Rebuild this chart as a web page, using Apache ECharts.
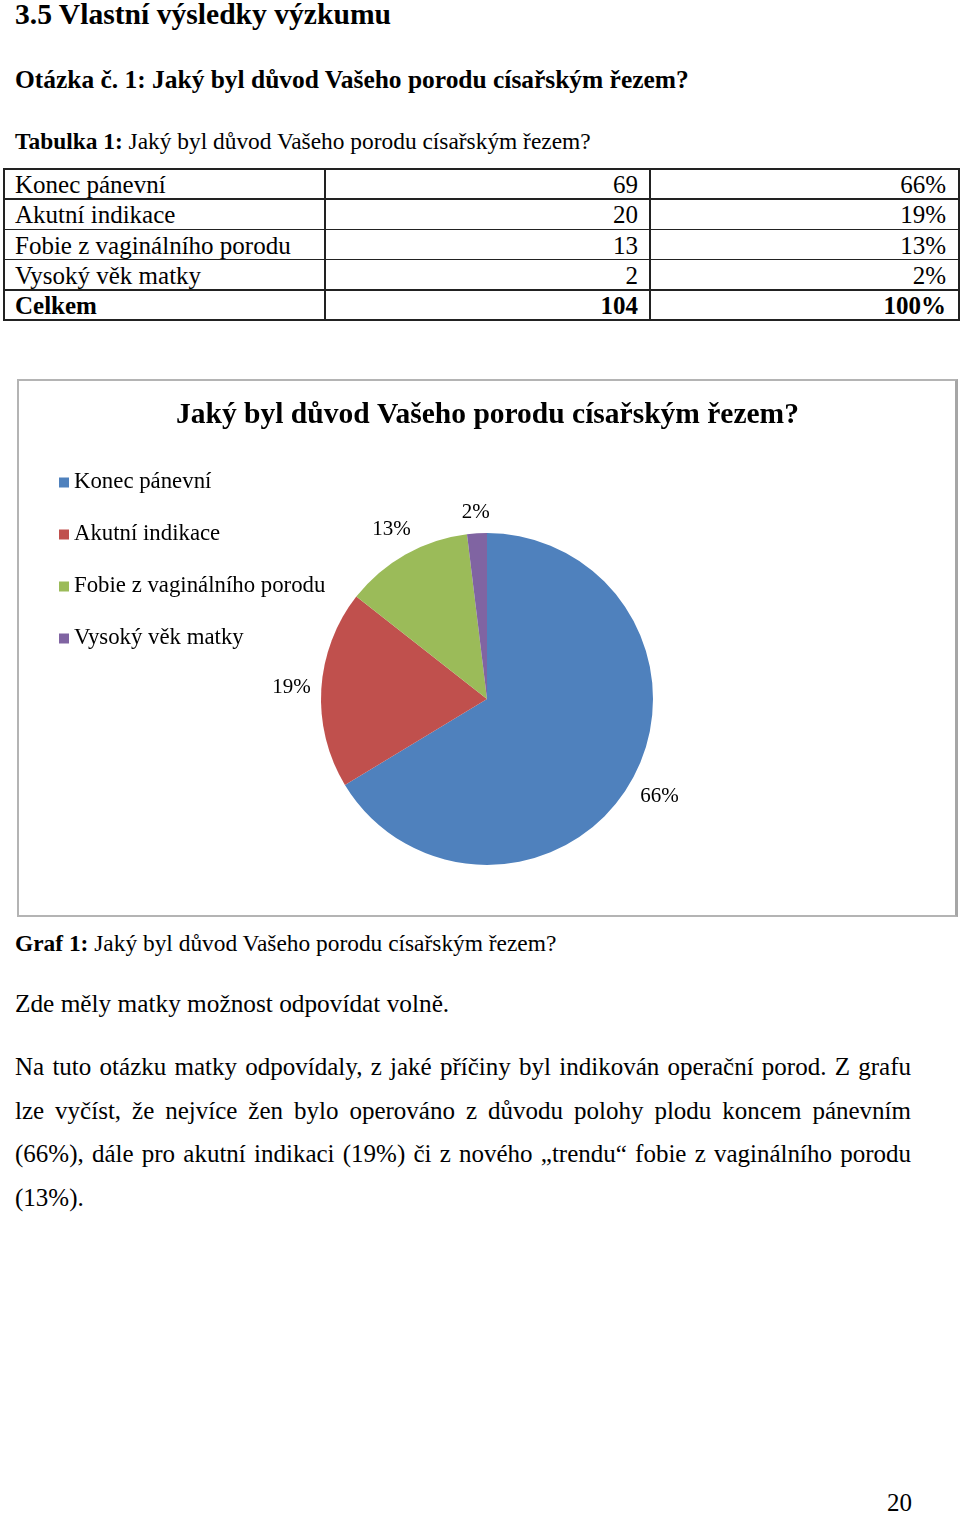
<!DOCTYPE html>
<html>
<head>
<meta charset="utf-8">
<script src="https://cdn.jsdelivr.net/npm/echarts@6/dist/echarts.min.js"></script>
<style>
  html, body { margin:0; padding:0; background:#fff; }
  body { width:960px; height:1515px; position:relative; overflow:hidden;
         font-family:"Liberation Serif","Times New Roman",serif; color:#000; }
  .t { position:absolute; white-space:nowrap; line-height:1; }
  .b { font-weight:bold; }
  .cell { position:absolute; font-size:25px; line-height:25px; white-space:nowrap; }
  .hl { position:absolute; background:#222; }
  .para { position:absolute; left:15px; width:896px; font-size:25px; line-height:43.5px; }
  .para div { text-align:justify; text-align-last:justify; white-space:nowrap; height:43.5px; }
  .para div.last { text-align-last:left; }
</style>
</head>
<body>
<div class="t b" style="left:15px;top:0px;font-size:29.6px;">3.5 Vlastní výsledky výzkumu</div>
<div class="t b" style="left:15px;top:66.7px;font-size:25.45px;">Otázka č. 1: Jaký byl důvod Vašeho porodu císařským řezem?</div>
<div class="t" style="left:15px;top:130.4px;font-size:23.4px;"><b>Tabulka 1:</b> Jaký byl důvod Vašeho porodu císařským řezem?</div>
<div id="table"></div>

<div style="position:absolute;left:17px;top:379px;width:941px;height:538px;box-sizing:border-box;border:2px solid #b4b4b4;border-right:3px solid #a6a6a6;"></div>
<div id="chart" style="position:absolute;left:18px;top:380px;width:939px;height:536px;"></div>

<div class="t" style="left:15px;top:932.4px;font-size:23.4px;"><b>Graf 1:</b> Jaký byl důvod Vašeho porodu císařským řezem?</div>
<div class="t" style="left:15px;top:990.8px;font-size:25.3px;">Zde měly matky možnost odpovídat volně.</div>
<div class="para" style="top:1045px;">
  <div>Na tuto otázku matky odpovídaly, z jaké příčiny byl indikován operační porod. Z grafu</div>
  <div>lze vyčíst, že nejvíce žen bylo operováno z&nbsp;důvodu polohy plodu koncem pánevním</div>
  <div>(66%), dále pro akutní indikaci (19%) či z nového „trendu“ fobie z vaginálního porodu</div>
  <div class="last">(13%).</div>
</div>
<div class="t" style="left:887px;top:1490px;font-size:25px;">20</div>

<script>
// ---- data ----
const categories = ['Konec pánevní', 'Akutní indikace', 'Fobie z vaginálního porodu', 'Vysoký věk matky'];
const counts = [69, 20, 13, 2];
const percents = ['66%', '19%', '13%', '2%'];
const totalLabel = 'Celkem';
const totalCount = '104';
const totalPercent = '100%';
const chartTitle = 'Jaký byl důvod Vašeho porodu císařským řezem?';
const colors = ['#4F81BD', '#C0504D', '#9BBB59', '#8064A2'];

// ---- table ----
(function () {
  const host = document.getElementById('table');
  const rowTop = 169, rowH = 30.2;
  const colX = [4, 325, 650, 959];
  const rows = categories.map((c, i) => [c, String(counts[i]), percents[i], false]);
  rows.push([totalLabel, totalCount, totalPercent, true]);
  let html = '';
  rows.forEach((r, i) => {
    const y = rowTop + i * rowH;
    const ty = y + 3.2;
    const fw = r[3] ? 'font-weight:bold;' : '';
    html += `<div class="cell" style="left:${colX[0] + 11}px;top:${ty}px;${fw}">${r[0]}</div>`;
    html += `<div class="cell" style="right:${960 - colX[2] + 12}px;top:${ty}px;${fw}">${r[1]}</div>`;
    html += `<div class="cell" style="right:${960 - colX[3] + 13}px;top:${ty}px;${fw}">${r[2]}</div>`;
  });
  for (let i = 0; i <= rows.length; i++) {
    const y = rowTop + i * rowH;
    html += `<div class="hl" style="left:${colX[0]}px;top:${y - 0.75}px;width:${colX[3] - colX[0]}px;height:1.5px;"></div>`;
  }
  colX.forEach(x => {
    html += `<div class="hl" style="left:${x - 0.75}px;top:${rowTop - 0.75}px;width:1.5px;height:${rows.length * rowH + 1.5}px;"></div>`;
  });
  host.innerHTML = html;
})();

// ---- chart ----
const chart = echarts.init(document.getElementById('chart'), null, { renderer: 'canvas' });
const CX = 469, CY = 319, R = 166, GAP = 10;
const total = counts.reduce((a, b) => a + b, 0);
const font = '"Liberation Serif","Times New Roman",serif';

chart.setOption({
  animation: false,
  color: colors,
  title: {
    text: chartTitle,
    left: 'center',
    top: 15,
    textStyle: { fontFamily: font, fontSize: 29.5, fontWeight: 'bold', color: '#000' }
  },
  legend: {
    orient: 'vertical',
    left: 36,
    top: 86,
    itemWidth: 10,
    itemHeight: 10,
    itemGap: 29,
    icon: 'rect',
    selectedMode: false,
    data: categories,
    textStyle: { fontFamily: font, fontSize: 22.8, color: '#000' }
  },
  series: [{
    type: 'pie',
    center: [CX, CY],
    radius: R,
    startAngle: 90,
    clockwise: true,
    silent: true,
    percentPrecision: 0,
    data: categories.map((c, i) => ({ name: c, value: counts[i] })),
    label: {
      show: true,
      position: 'outside',
      formatter: '{d}%',
      fontFamily: font,
      fontSize: 21,
      color: '#000'
    },
    labelLine: { show: false },
    labelLayout: function (p) {
      const idx = p.dataIndex;
      let acc = 0;
      for (let i = 0; i < idx; i++) acc += counts[i];
      const mid = (acc + counts[idx] / 2) / total * Math.PI * 2;
      const dx = Math.sin(mid), dy = -Math.cos(mid);
      const w = p.labelRect.width, h = p.labelRect.height;
      const d = R + GAP + Math.abs(dx) * w / 2 + Math.abs(dy) * h / 2;
      return { x: CX + dx * d, y: CY + dy * d, align: 'center', verticalAlign: 'middle' };
    }
  }]
});
</script>
</body>
</html>
